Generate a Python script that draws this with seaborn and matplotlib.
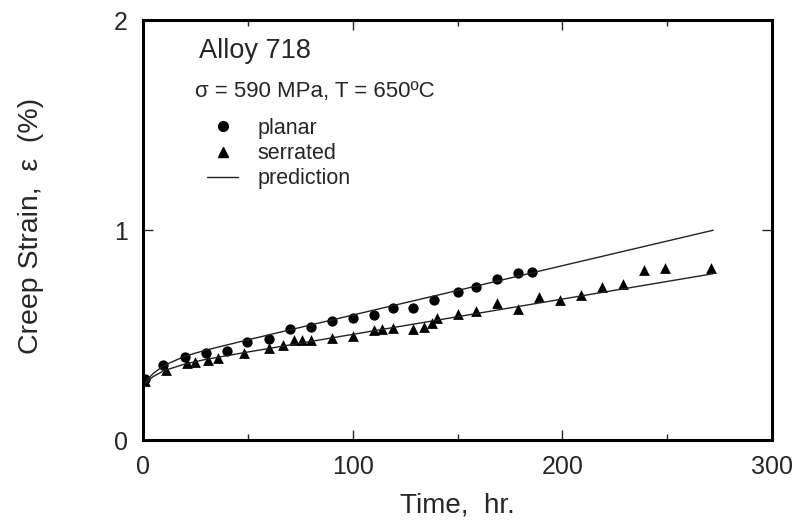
import matplotlib
matplotlib.use("Agg")
import matplotlib.pyplot as plt
import seaborn as sns
import numpy as np
import pandas as pd
from matplotlib.ticker import MultipleLocator
from matplotlib.lines import Line2D

# ---- data ----
planar_t = [1, 9.5, 20, 30, 40, 49.5, 60, 70, 80, 90, 100, 110, 119, 129, 139, 150, 159, 169, 179, 185.5]
planar_e = [0.29, 0.357, 0.395, 0.414, 0.424, 0.467, 0.48, 0.528, 0.538, 0.567, 0.58, 0.595, 0.628, 0.63,
            0.665, 0.705, 0.73, 0.766, 0.795, 0.80]

serr_t = [1, 11, 21, 25, 31, 36, 48, 60, 67, 72, 76, 80, 90, 100, 110, 114, 119, 129, 134, 138, 140,
          150, 159, 169, 179, 189, 199, 209, 219, 229, 239, 249, 271]
serr_e = [0.28, 0.333, 0.367, 0.37, 0.38, 0.39, 0.414, 0.438, 0.452, 0.476, 0.476, 0.476, 0.486, 0.495,
          0.524, 0.528, 0.533, 0.528, 0.54, 0.557, 0.58, 0.60, 0.614, 0.652, 0.624, 0.681, 0.667,
          0.69, 0.73, 0.743, 0.81, 0.819, 0.819]

pred_t = [0, 2, 5, 10, 20, 30, 50, 100, 150, 200, 272]
pred_planar = [0.26, 0.287, 0.318, 0.355, 0.399, 0.428, 0.477, 0.595, 0.712, 0.83, 0.999]
pred_serr = [0.26, 0.28, 0.303, 0.330, 0.362, 0.384, 0.419, 0.503, 0.587, 0.671, 0.792]

x_ticks = [0, 100, 200, 300]
y_ticks = [0, 1, 2]

sns.set_theme(style="white")
plt.rcParams['font.family'] = ['Liberation Sans', 'DejaVu Sans']

fig = plt.figure(figsize=(7.99, 5.30), dpi=100)
ax = fig.add_axes([143/799, 90/530, (772-143)/799, (440-20)/530])

sns.lineplot(x=pred_t, y=pred_planar, ax=ax, color='#222222', lw=1.0)
sns.lineplot(x=pred_t, y=pred_serr, ax=ax, color='#222222', lw=1.0)
sns.scatterplot(x=planar_t, y=planar_e, ax=ax, marker='o', color='black', s=55, edgecolor='black', linewidth=0)
sns.scatterplot(x=serr_t, y=serr_e, ax=ax, marker='^', color='black', s=60, edgecolor='black', linewidth=0)

ax.set_xlim(0, 300)
ax.set_ylim(0, 2)
ax.set_xticks(x_ticks)
ax.set_yticks(y_ticks)
ax.xaxis.set_minor_locator(MultipleLocator(50))
ax.tick_params(which='both', direction='in', top=True, right=True, bottom=True, left=True)
ax.tick_params(which='major', length=7, width=1, labelsize=18, pad=11)
ax.tick_params(which='minor', length=4, width=1)
for s in ax.spines.values():
    s.set_linewidth(2.2)
    s.set_color('black')

ax.set_xlabel('Time,  hr.', fontsize=20)
ax.set_ylabel('Creep Strain,  ε  (%)', fontsize=20.5)
ax.xaxis.set_label_coords(0.5, -0.125)
ax.yaxis.set_label_coords(-0.157, 0.51)

ax.text(0.089, 0.91, 'Alloy 718', transform=ax.transAxes, fontsize=19.5, va='baseline')
ax.text(0.083, 0.817, 'σ = 590 MPa, T = 650ºC', transform=ax.transAxes, fontsize=16, va='baseline')

handles = [Line2D([], [], marker='o', color='black', ls='none', markersize=7),
           Line2D([], [], marker='^', color='black', ls='none', markersize=7.5),
           Line2D([], [], color='#222222', lw=1.0)]
leg = ax.legend(handles, ['planar', 'serrated', 'prediction'], loc='upper left',
                bbox_to_anchor=(0.102, 0.767), frameon=False, fontsize=15.5,
                handlelength=1.45, handletextpad=0.9, labelspacing=0.2, borderpad=0,
                borderaxespad=0)

fig.savefig('out.png', dpi=100)
